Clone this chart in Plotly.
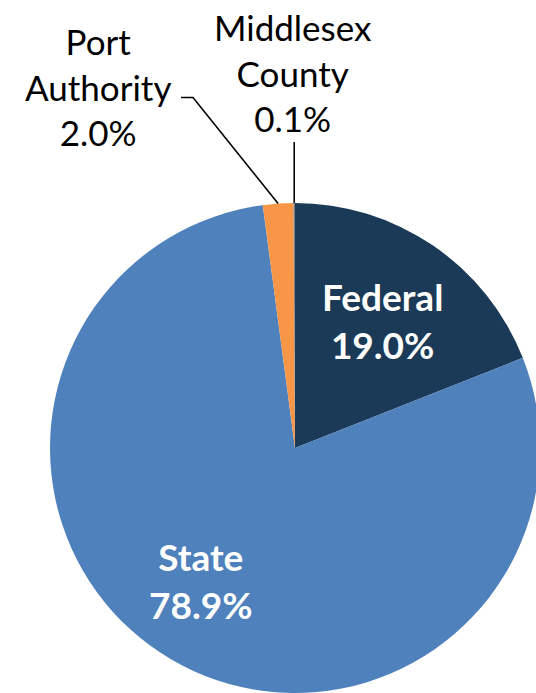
import math
import plotly.graph_objects as go

# ---- data ----
categories = ["Federal", "State", "Port Authority", "Middlesex County"]
shares = [19.0, 78.9, 2.0, 0.1]
label_lines = [["Federal", "19.0%"], ["State", "78.9%"],
               ["Port", "Authority", "2.0%"], ["Middlesex", "County", "0.1%"]]
colors = ["#1B3A57", "#4F81BD", "#F79646", "#7F7F7F"]

# ---- layout geometry (pixels) ----
W, H = 545, 693
cx, cy, R = 295, 448, 245

def px(x, y):
    return x / W, 1 - y / H

fig = go.Figure(go.Pie(
    labels=categories, values=shares, sort=False, direction="clockwise",
    rotation=0, marker=dict(colors=colors, line=dict(width=0)),
    textinfo="none", hoverinfo="label+percent", showlegend=False,
    domain=dict(x=[(cx - R) / W, (cx + R) / W], y=[1 - (cy + R) / H, 1 - (cy - R) / H]),
))

FONT = "Lato, Open Sans, sans-serif"
ann = []
# inside labels
inside_pos = {0: (382, 320), 1: (201, 580)}
for i, (x, y) in inside_pos.items():
    ax_, ay_ = px(x, y)
    ann.append(dict(x=ax_, y=ay_, xref="paper", yref="paper", showarrow=False,
                    text="<b>" + "<br>".join(label_lines[i]) + "</b>",
                    font=dict(family=FONT, size=37, color="white"),
                    xanchor="center", yanchor="middle", align="center"))
# outside labels
outside_pos = {2: (98, 87), 3: (293, 73)}
for i, (x, y) in outside_pos.items():
    ax_, ay_ = px(x, y)
    ann.append(dict(x=ax_, y=ay_, xref="paper", yref="paper", showarrow=False,
                    text="<br>".join(label_lines[i]),
                    font=dict(family=FONT, size=35, color="black"),
                    xanchor="center", yanchor="middle", align="center"))

# leader lines: tip at the rim, at each slice's mid-angle (derived from data)
total = sum(shares)
cum = 0
mids = []
for v in shares:
    mids.append((cum + v / 2) / total * 2 * math.pi)
    cum += v
shapes = []
tip = [(cx + R * math.sin(a), cy - R * math.cos(a)) for a in mids]
# Port Authority
t2 = tip[2]
pts = [(181, 97.5), (193, 97.5), t2]
path = "M " + " L ".join("%f,%f" % px(*p) for p in pts)
shapes.append(dict(type="path", path=path, xref="paper", yref="paper",
                   line=dict(color="black", width=1.6)))
# Middlesex County
t3 = tip[3]
pts = [(t3[0], 142), t3]
path = "M " + " L ".join("%f,%f" % px(*p) for p in pts)
shapes.append(dict(type="path", path=path, xref="paper", yref="paper",
                   line=dict(color="black", width=1.6)))

fig.update_layout(width=W, height=H, margin=dict(l=0, r=0, t=0, b=0),
                  paper_bgcolor="white", plot_bgcolor="white",
                  annotations=ann, shapes=shapes)

fig.write_html("out.html", config={"displayModeBar": False},
               post_script="document.body.style.margin='0';document.body.style.overflow='hidden';")
